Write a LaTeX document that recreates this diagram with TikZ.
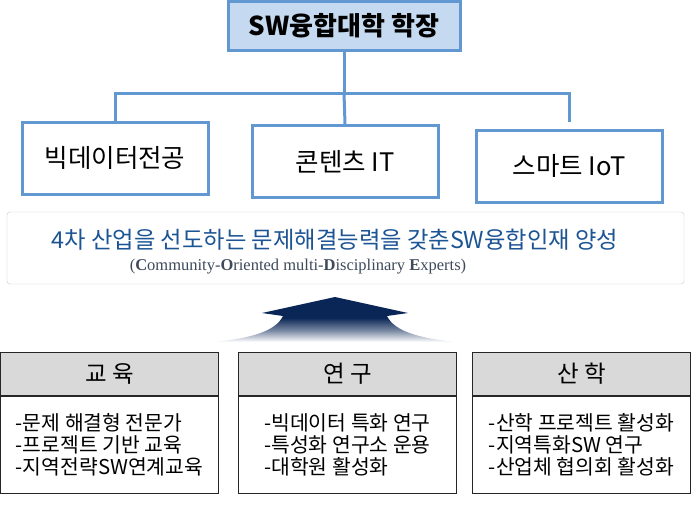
\documentclass[tikz,border=0pt]{standalone}
\usepackage{fontspec}
\setmainfont{Liberation Serif}
\newfontfamily\kr{Noto Sans CJK KR}
\usetikzlibrary{positioning}
\definecolor{lineblue}{RGB}{98,152,210}
\definecolor{paleblue}{RGB}{197,217,240}
\definecolor{titleblue}{RGB}{28,84,148}
\definecolor{slate}{RGB}{62,74,92}
\definecolor{navy}{RGB}{10,38,86}
\definecolor{headgray}{RGB}{217,217,217}
\pgfdeclareverticalshading{arrowfade}{100bp}{color(0bp)=(white); color(25bp)=(white);
  color(38bp)=(navy!55); color(52bp)=(navy); color(100bp)=(navy)}
\tikzset{
  link/.style={draw=lineblue,line width=3pt},
  dean box/.style={draw=lineblue,line width=3pt,fill=paleblue,minimum width=232pt,
    minimum height=49pt,font=\kr\bfseries\fontsize{26}{30}\selectfont},
  major/.style={draw=lineblue,line width=3pt,fill=white,minimum width=186pt,
    minimum height=72pt,font=\kr\fontsize{25.5}{30}\selectfont},
  banner/.style={draw=black!22,rounded corners=3pt,fill=white,minimum width=677pt,minimum height=72pt},
  colhead/.style={draw=black!85,line width=1pt,fill=headgray,minimum width=218pt,
    minimum height=43pt,font=\kr\fontsize{23.5}{26}\selectfont},
  colbody/.style={draw=black!85,line width=1pt,fill=white,minimum width=218pt,
    minimum height=97pt,align=left,font=\kr\fontsize{20.4}{22}\selectfont},
}
\begin{document}
\begin{tikzpicture}[x=1pt,y=-1pt]
  \useasboundingbox (0,0) rectangle (694,504);
  % dean and majors
  \node[dean box] (dean) at (344,25.5) {SW융합대학 학장};
  \node[major] (bigdata) at (115,158) {빅데이터전공};
  \node[major] (content) at (345,161.5) {콘텐츠 IT};
  \node[major] (smart) at (569,166) {스마트 IoT};
  \coordinate (split) at (344,93);
  \coordinate (smartup) at (569,122);
  \draw[link] (dean.south) -- (split);
  \draw[link] (bigdata.north) |- (split) -| (smartup);
  \draw[link] (split) -- (content.north);
  % goal
  \node[banner] (goal) at (345.5,248) {};
  \node[font=\kr\fontsize{23.3}{26}\selectfont,text=titleblue] (goaltitle) at (335,240)
    {4차 산업을 선도하는 문제해결능력을 갖춘SW융합인재 양성};
  \node[font=\fontsize{16.5}{18}\selectfont,text=slate] (goalsub) at (298,267)
    {(\textbf{C}ommunity-\textbf{O}riented multi-\textbf{D}isciplinary \textbf{E}xperts)};
  \shade[shading=arrowfade]
    (335,297) -- (408,313) -- (387,316) .. controls (395,332) and (420,338) .. (455,342)
    -- (215,342) .. controls (250,338) and (275,332) .. (283,316) -- (262,313) -- cycle;
  % three pillars
  \foreach \n/\cx/\head/\body in {
      edu/109.5/교 육/{-문제 해결형 전문가\\-프로젝트 기반 교육\\-지역전략SW연계교육},
      res/347.5/연 구/{-빅데이터 특화 연구\\-특성화 연구소 운용\\-대학원 활성화},
      ind/581.5/산 학/{-산학 프로젝트 활성화\\-지역특화SW 연구\\-산업체 협의회 활성화}} {
    \node[colhead] (h\n) at (\cx,373.5) {\head};
    \node[colbody,below=0pt of h\n] (b\n) {\body};
  }
\end{tikzpicture}
\end{document}
